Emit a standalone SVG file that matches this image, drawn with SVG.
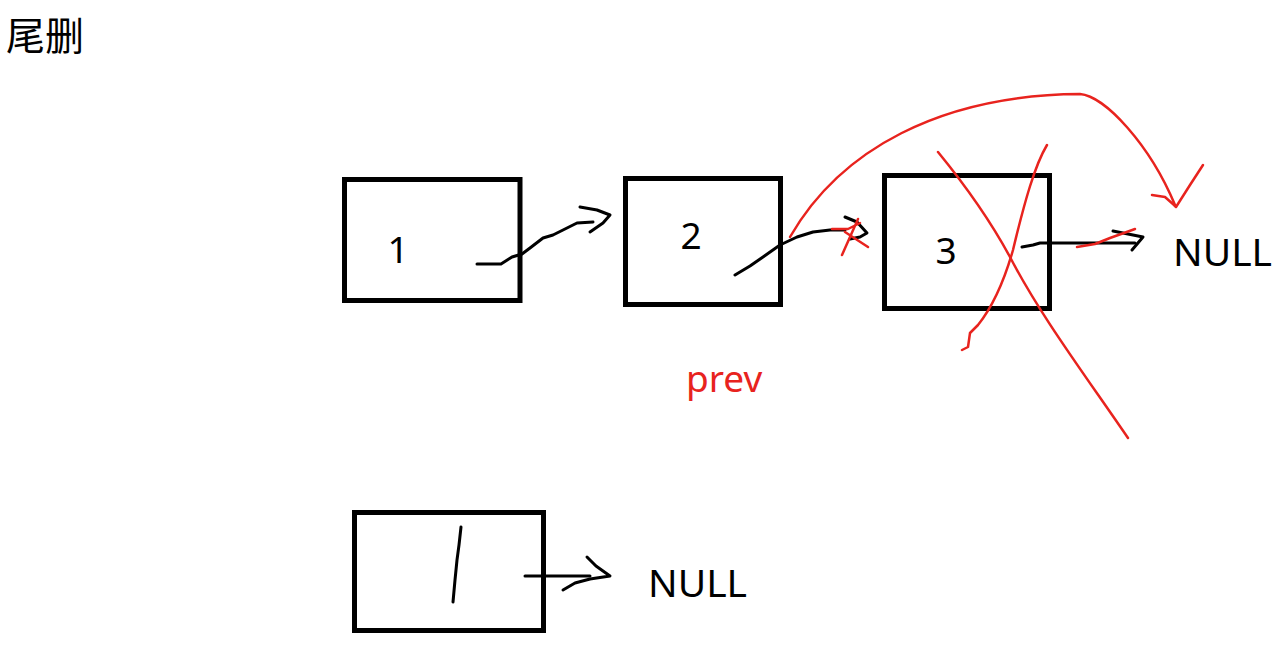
<svg xmlns="http://www.w3.org/2000/svg" width="1280" height="646" viewBox="0 0 1280 646">
<style>
.box{fill:#fff;stroke:#000;stroke-width:5}
.t{font-family:"Noto Sans","Noto Sans CJK SC",sans-serif;fill:#000}
.ink{fill:none;stroke:#000;stroke-width:3;stroke-linecap:round;stroke-linejoin:round}
.red{fill:none;stroke:#e8231e;stroke-width:2.5;stroke-linecap:round;stroke-linejoin:round}
</style>
<rect width="1280" height="646" fill="#fff"/>
<text class="t" x="6" y="50" font-size="39">尾删</text>
<g id="node1">
<rect class="box" x="344.5" y="179.5" width="175.5" height="121"/>
<text class="t" x="398" y="263" font-size="37" text-anchor="middle">1</text>
</g>
<g id="node2">
<rect class="box" x="625.5" y="178.5" width="155" height="126"/>
<text class="t" x="691" y="249" font-size="37" text-anchor="middle">2</text>
</g>
<g id="node3">
<rect class="box" x="884.5" y="175.5" width="165" height="133"/>
<text class="t" x="946" y="264" font-size="37" text-anchor="middle">3</text>
</g>
<g id="null1">
<text class="t" x="1173" y="266" font-size="39">NULL</text>
</g>
<g id="prev">
<text class="t" x="686" y="392" font-size="37" style="fill:#e8231e">prev</text>
</g>
<g id="node4">
<rect class="box" x="354.5" y="512.5" width="189" height="118"/>
<path class="ink" d="M461 527 L459 545 L457 560 L455 580 L453 602"/>
</g>
<g id="null2">
<text class="t" x="648" y="597" font-size="39">NULL</text>
</g>
<g id="connectors">
<path class="ink" d="M477 264 L501 264 L512 257 L522 254 L530 248 L543 238 L553 235 L563 230 L577 223 L593 222"/>
<path class="ink" d="M580 207 L597 210 L610 215 L603 223 L590 232"/>
<path class="ink" d="M735 275 L750 266 L763 257 L780 245 L797 237 L813 232 L830 230 L845 230"/>
<path class="ink" d="M845 217 L857 222 L867 233 L860 237 L850 239"/>
<path class="red" d="M832 229 L848 229 L860 223 M858 219 L842 255 M845 232 L868 247"/>
<path class="red" d="M790 237 C840 150 940 95 1080 94 C1105 96 1150 145 1175 205"/>
<path class="red" d="M1152 195 L1165 197 L1174 205 L1176 207 L1190 185 L1203 165"/>
<path class="red" d="M938 152 C965 185 990 220 1010 257 C1040 315 1085 375 1128 438"/>
<path class="red" d="M1047 145 C1035 165 1025 200 1013 250 C1003 285 990 310 978 325 L970 333 L968 347 L962 350"/>
<path class="ink" d="M1022 247 L1033 245 L1040 243 L1067 243 L1135 243"/>
<path class="ink" d="M1113 231 L1143 237 L1132 250"/>
<path class="red" d="M1077 247 L1095 244 L1110 238 L1135 229"/>
<path class="ink" d="M525 576 L590 576"/>
<path class="ink" d="M587 557 L596 566 L610 576 L590 579 L575 583 L563 590"/>
</g>
</svg>
